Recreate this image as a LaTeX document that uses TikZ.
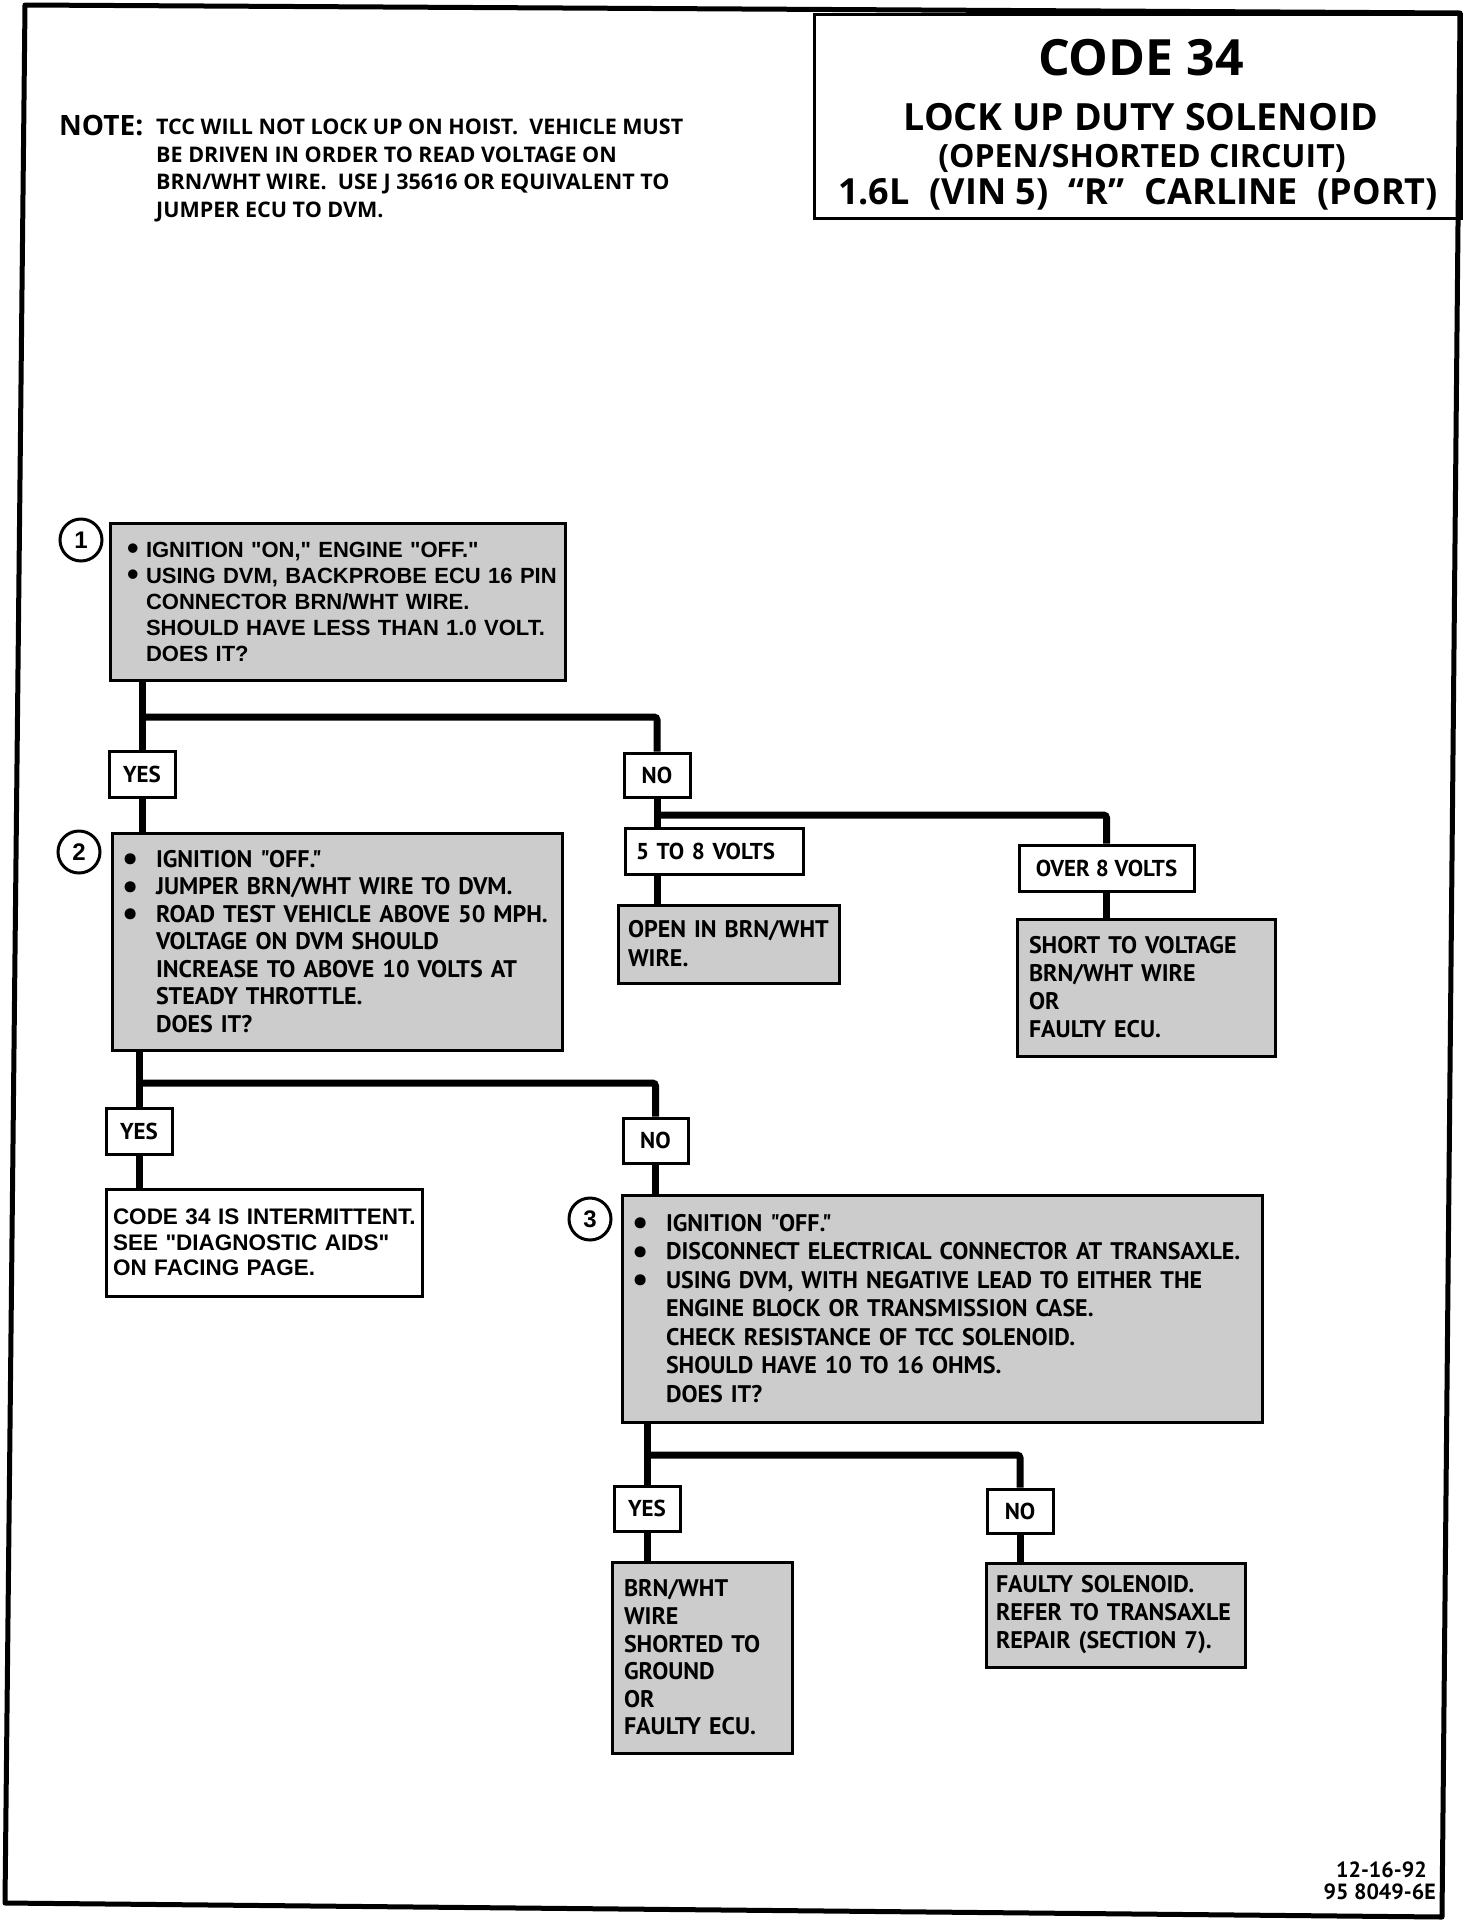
\documentclass[tikz,border=0pt]{standalone}
\usepackage{fontspec}
\setmainfont{Liberation Sans}
\newfontfamily\helv{Liberation Sans}
\newfontfamily\frut{PT Sans}
\newfontfamily\opn{Open Sans}
\newcommand\bl[1]{\makebox[#1][l]{\raisebox{-0.13em}{\scalebox{1.5}{\textbullet}}}}
\newcommand\li[1]{\mbox{#1}}
\begin{document}
\begin{tikzpicture}[x=1pt,y=-1pt,
  conn/.style={line width=7pt, rounded corners=3pt},
  frame/.style={line width=5pt, line join=round},
  bx/.style={draw, line width=3pt, inner ysep=0pt, align=left},
  shade/.style={bx, fill=black!20},
  plainbox/.style={bx, fill=white},
  lab/.style={draw, line width=3pt, fill=white, inner sep=0pt, font=\frut\bfseries\fontsize{23}{26}\selectfont},
  num/.style={circle, draw, line width=3pt, fill=white, minimum size=42pt, inner sep=0pt, font=\helv\bfseries\fontsize{24}{24}\selectfont},
  ftxt/.style={font=\frut\bfseries\fontsize{24}{#1}\selectfont},
  ttl/.style={anchor=base, font=\opn\bfseries\fontsize{#1}{#1}\selectfont}
]
\useasboundingbox (0,0) rectangle (1472,1920);
\fill[white] (0,0) rectangle (1472,1920);
\draw[frame] (25,5) -- (1460,13) -- (1442,1917) -- (5,1903) -- cycle;

% title block
\node[draw, line width=3pt, minimum width=647pt, minimum height=204pt, anchor=north west, inner sep=0pt] (title) at (813,13) {};
\node[ttl=50] (t1) at (1141,75) {CODE 34};
\node[ttl=37.5] (t2) at (1141,130) {LOCK UP DUTY SOLENOID};
\node[ttl=32] (t3) at (1142,167) {(OPEN/SHORTED CIRCUIT)};
\node[ttl=36] (t4) at (1138,204) {1.6L\hspace{20pt}(VIN 5)\hspace{20pt}“R”\hspace{20pt}CARLINE\hspace{20pt}(PORT)};

% note
\node[anchor=base west, inner sep=0pt, font=\opn\bfseries\fontsize{28}{28}\selectfont] (note) at (59,135) {NOTE:};
\node[anchor=north west, inner sep=0pt, align=left, font=\opn\bfseries\fontsize{21.5}{27.5}\selectfont] (notetext) at (156,119)
  {TCC WILL NOT LOCK UP ON HOIST.\ \ VEHICLE MUST\\
   BE DRIVEN IN ORDER TO READ VOLTAGE ON\\
   BRN/WHT WIRE.\ \ USE J 35616 OR EQUIVALENT TO\\
   JUMPER ECU TO DVM.};

% step 1
\node[shade, minimum width=455pt, minimum height=157pt, text width=421pt, inner xsep=17pt,
      font=\helv\bfseries\fontsize{22}{26}\selectfont] (b1) at (337.5,601.5)
  {\bl{19pt}\li{IGNITION "ON," ENGINE "OFF."}\\
   \bl{19pt}\li{USING DVM, BACKPROBE ECU 16 PIN}\\
   \hspace*{19pt}\li{CONNECTOR BRN/WHT WIRE.}\\
   \hspace*{19pt}\li{SHOULD HAVE LESS THAN 1.0 VOLT.}\\
   \hspace*{19pt}DOES IT?};
\node[num] (c1) at (81,540) {1};

\node[lab, minimum width=66pt, minimum height=46pt] (yes1) at (142,774) {YES};
\node[lab, minimum width=66pt, minimum height=44pt] (no1) at (657,775) {NO};
\node[lab, minimum width=178pt, minimum height=46pt, inner xsep=11pt, text width=156pt, align=left] (v58) at (714,851) {5 TO 8 VOLTS};
\node[lab, minimum width=175pt, minimum height=46pt] (v8) at (1106.5,868) {OVER 8 VOLTS};

\node[shade, minimum width=221pt, minimum height=78pt, text width=201pt, inner xsep=10pt, ftxt=29] (open) at (728.5,944)
  {OPEN IN BRN/WHT\\ WIRE.};
\node[shade, minimum width=258pt, minimum height=137pt, text width=234pt, inner xsep=12pt, ftxt=28] (short) at (1146,987.5)
  {SHORT TO VOLTAGE\\ BRN/WHT WIRE\\ OR\\ FAULTY ECU.};

% step 2
\node[shade, minimum width=450pt, minimum height=217pt, text width=430pt, inner xsep=10pt, ftxt=27.5] (b2) at (337,941.5)
  {\bl{34pt}\li{IGNITION "OFF."}\\
   \bl{34pt}\li{JUMPER BRN/WHT WIRE TO DVM.}\\
   \bl{34pt}\li{ROAD TEST VEHICLE ABOVE 50 MPH.}\\
   \hspace*{34pt}\li{VOLTAGE ON DVM SHOULD}\\
   \hspace*{34pt}\li{INCREASE TO ABOVE 10 VOLTS AT}\\
   \hspace*{34pt}\li{STEADY THROTTLE.}\\
   \hspace*{34pt}DOES IT?};
\node[num] (c2) at (79,852) {2};

\node[lab, minimum width=66pt, minimum height=46pt] (yes2) at (139,1131) {YES};
\node[lab, minimum width=65pt, minimum height=45pt] (no2) at (655.5,1140.5) {NO};

\node[plainbox, minimum width=316pt, minimum height=107pt, text width=302pt, inner xsep=7pt,
      font=\helv\bfseries\fontsize{22.5}{25.5}\selectfont] (interm) at (264,1242.5)
  {\li{CODE 34 IS INTERMITTENT.}\\ \li{SEE "DIAGNOSTIC AIDS"}\\ \li{ON FACING PAGE.}};

% step 3
\node[shade, minimum width=640pt, minimum height=227pt, text width=620pt, inner xsep=10pt, ftxt=28.5] (b3) at (942,1308.5)
  {\bl{34pt}\li{IGNITION "OFF."}\\
   \bl{34pt}\li{DISCONNECT ELECTRICAL CONNECTOR AT TRANSAXLE.}\\
   \bl{34pt}\li{USING DVM, WITH NEGATIVE LEAD TO EITHER THE}\\
   \hspace*{34pt}\li{ENGINE BLOCK OR TRANSMISSION CASE.}\\
   \hspace*{34pt}\li{CHECK RESISTANCE OF TCC SOLENOID.}\\
   \hspace*{34pt}\li{SHOULD HAVE 10 TO 16 OHMS.}\\
   \hspace*{34pt}DOES IT?};
\node[num] (c3) at (590,1219) {3};

\node[lab, minimum width=66pt, minimum height=45pt] (yes3) at (647,1508.5) {YES};
\node[lab, minimum width=66pt, minimum height=44pt] (no3) at (1020,1511) {NO};

\node[shade, minimum width=180pt, minimum height=191pt, text width=156pt, inner xsep=12pt, ftxt=27.6] (brn) at (702,1657.5)
  {BRN/WHT\\ WIRE\\ SHORTED TO\\ GROUND\\ OR\\ FAULTY ECU.};
\node[shade, minimum width=259pt, minimum height=104pt, text width=239pt, inner xsep=10pt, ftxt=28] (faulty) at (1115.5,1615)
  {\li{FAULTY SOLENOID.}\\ \li{REFER TO TRANSAXLE}\\ \li{REPAIR (SECTION 7).}};

% footer
\node[anchor=base east, inner sep=0pt, font=\frut\bfseries\fontsize{22}{22}\selectfont] (date) at (1427,1877) {12-16-92};
\node[anchor=base east, inner sep=0pt, font=\frut\bfseries\fontsize{22}{22}\selectfont] (code) at (1436,1899) {95 8049-6E};

% connectors
\coordinate (j1) at (142,717);
\coordinate (j2) at (657,815);
\coordinate (j3) at (139,1083);
\coordinate (j4) at (647,1455);
\draw[conn] (yes1.north |- b1.south) -- (yes1.north);
\draw[conn] (j1) -| (no1.north);
\draw[conn] (yes1.south) -- (yes1.south |- b2.north);
\draw[conn] (no1.south) -- (no1.south |- v58.north);
\draw[conn] (j2) -| (v8.north);
\draw[conn] (no1.south |- v58.south) -- (no1.south |- open.north);
\draw[conn] (v8.south) -- (v8.south |- short.north);
\draw[conn] (yes2.north |- b2.south) -- (yes2.north);
\draw[conn] (j3) -| (no2.north);
\draw[conn] (yes2.south) -- (yes2.south |- interm.north);
\draw[conn] (no2.south) -- (no2.south |- b3.north);
\draw[conn] (yes3.north |- b3.south) -- (yes3.north);
\draw[conn] (j4) -| (no3.north);
\draw[conn] (yes3.south) -- (yes3.south |- brn.north);
\draw[conn] (no3.south) -- (no3.south |- faulty.north);
\end{tikzpicture}
\end{document}
